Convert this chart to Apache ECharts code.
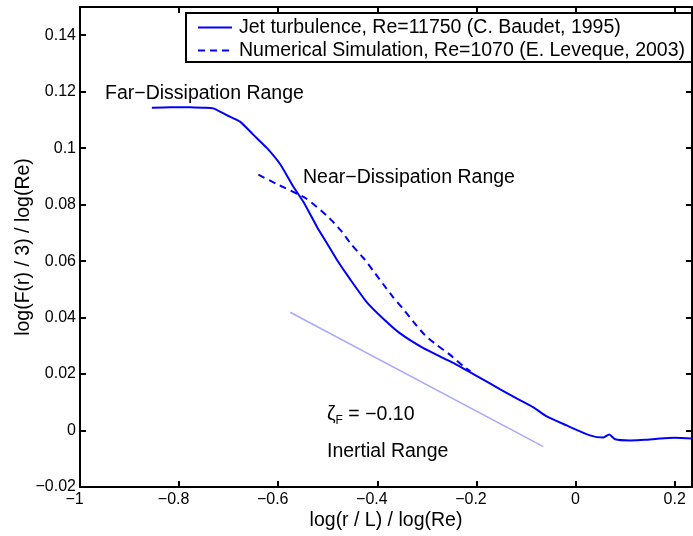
<!DOCTYPE html>
<html><head><meta charset="utf-8">
<script src="https://cdn.jsdelivr.net/npm/echarts@6/dist/echarts.min.js"></script>
<style>html,body{margin:0;padding:0;background:#fff}#c{width:693px;height:536px}</style>
</head><body><div id="c"></div>
<script>
// Jet turbulence, Re=11750 (C. Baudet, 1995) — solid curve
const jetX = [-0.855, -0.818, -0.778, -0.750, -0.731, -0.704, -0.677, -0.650, -0.623, -0.596, -0.570, -0.549, -0.522, -0.502, -0.482, -0.455, -0.421, -0.388, -0.354, -0.307, -0.253, -0.199, -0.152, -0.119, -0.085, -0.058, -0.018, 0.029, 0.056, 0.068, 0.080, 0.110, 0.140, 0.171, 0.201, 0.235];
const jetY = [0.1143, 0.1145, 0.1145, 0.1143, 0.1141, 0.1117, 0.1094, 0.1047, 0.1001, 0.0943, 0.0865, 0.0809, 0.0722, 0.0664, 0.0606, 0.0536, 0.0454, 0.0396, 0.0344, 0.0292, 0.0245, 0.0193, 0.0146, 0.0114, 0.0082, 0.0050, 0.0018, -0.0017, -0.0025, -0.0014, -0.0031, -0.0035, -0.0033, -0.0028, -0.0026, -0.0028];
// Numerical Simulation, Re=1070 (E. Leveque, 2003) — dashed curve
const simX = [-0.640, -0.603, -0.543, -0.496, -0.472, -0.452, -0.428, -0.408, -0.388, -0.368, -0.348, -0.327, -0.304, -0.280, -0.253, -0.226, -0.212];
const simY = [0.0906, 0.0873, 0.0821, 0.0751, 0.0705, 0.0658, 0.0611, 0.0565, 0.0518, 0.0472, 0.0431, 0.0385, 0.0338, 0.0303, 0.0268, 0.0227, 0.0210];
// Inertial-range slope guide (zeta = -0.10)
const slopeX = [-0.576, -0.065];
const slopeY = [0.0419, -0.0057];

const seriesNames = ['Jet turbulence, Re=11750 (C. Baudet, 1995)', 'Numerical Simulation, Re=1070 (E. Leveque, 2003)'];
const xTickValues = [-1, -0.8, -0.6, -0.4, -0.2, 0, 0.2];
const xTickLabels = ['\u22121', '\u22120.8', '\u22120.6', '\u22120.4', '\u22120.2', '0', '0.2'];
const yTickValues = [-0.02, 0, 0.02, 0.04, 0.06, 0.08, 0.1, 0.12, 0.14];
const yTickLabels = ['\u22120.02', '0', '0.02', '0.04', '0.06', '0.08', '0.1', '0.12', '0.14'];
const xTitle = 'log(r / L) / log(Re)';
const yTitle = 'log(F(r) / 3) / log(Re)';
const annFar = 'Far\u2212Dissipation Range';
const annNear = 'Near\u2212Dissipation Range';
const annZeta = ['\u03B6', 'F', ' = \u22120.10'];
const annInertial = 'Inertial Range';

const FONT = '"Liberation Sans", Arial, Helvetica, sans-serif';
const BIG = 19.5;
const zip = (xs, ys) => xs.map((x, i) => [x, ys[i]]);
const lookup = (vals, labels) => v => {
  const i = vals.findIndex(t => Math.abs(t - v) < 1e-6);
  return i >= 0 ? labels[i] : '';
};
const xLab = lookup(xTickValues, xTickLabels);
const yLab = lookup(yTickValues, yTickLabels);

const chart = echarts.init(document.getElementById('c'), null, {renderer: 'canvas'});
const axisCommon = {
  axisLine: {show: true, onZero: false, lineStyle: {color: '#000', width: 2}},
  axisTick: {show: true, inside: true, length: 6, lineStyle: {color: '#000', width: 2}},
  splitLine: {show: false}
};
chart.setOption({
  animation: false,
  backgroundColor: '#fff',
  grid: {left: 80, right: 1, top: 7, bottom: 42, containLabel: false},
  xAxis: [
    Object.assign({
      type: 'value', min: -1, max: 0.235, interval: 0.2, position: 'bottom',
      name: xTitle, nameLocation: 'middle', nameGap: 24, nameMoveOverlap: false,
      nameTextStyle: {fontFamily: FONT, fontSize: BIG, color: '#000'},
      axisLabel: {
        show: true, margin: 5, showMaxLabel: false, fontFamily: FONT, fontSize: 16, color: '#000',
        formatter: v => { const s = xLab(v); return s.charAt(0) === '\u2212' ? '{n|' + s + '}' : s; },
        rich: {n: {fontFamily: FONT, fontSize: 16, color: '#000', padding: [0, 11, 0, 0]}}
      }
    }, axisCommon),
    Object.assign({
      type: 'value', min: -1, max: 0.235, interval: 0.2, position: 'top',
      axisLabel: {show: false}
    }, axisCommon)
  ],
  yAxis: [
    Object.assign({
      type: 'value', min: -0.02, max: 0.15, interval: 0.02, position: 'left',
      name: yTitle, nameLocation: 'middle', nameGap: 46, nameRotate: 90, nameMoveOverlap: false,
      nameTextStyle: {fontFamily: FONT, fontSize: BIG, color: '#000'},
      axisLabel: {show: true, margin: 4, showMaxLabel: false, fontFamily: FONT, fontSize: 16, color: '#000', formatter: yLab}
    }, axisCommon),
    Object.assign({
      type: 'value', min: -0.02, max: 0.15, interval: 0.02, position: 'right',
      axisLabel: {show: false}
    }, axisCommon)
  ],
  legend: {
    orient: 'vertical', left: 197, top: 16, padding: 0, itemGap: 0, z: 200,
    itemWidth: 34, itemHeight: 14,
    itemStyle: {color: 'rgba(0,0,0,0)', borderColor: 'rgba(0,0,0,0)', borderWidth: 0},
    data: seriesNames,
    textStyle: {fontFamily: FONT, fontSize: BIG, color: '#000', lineHeight: 23, padding: [0, 0, 0, 2]}
  },
  series: [
    {
      name: seriesNames[0], type: 'line', data: zip(jetX, jetY), showSymbol: false, symbol: 'none',
      smooth: 0.2,
      lineStyle: {color: '#0000ff', width: 2, type: 'solid'}, itemStyle: {color: '#0000ff'}, z: 3
    },
    {
      name: seriesNames[1], type: 'line', data: zip(simX, simY), showSymbol: false, symbol: 'none',
      smooth: 0.2,
      lineStyle: {color: '#0000ff', width: 2, type: [7, 5]}, itemStyle: {color: '#0000ff'}, z: 3
    },
    {
      name: 'slope', type: 'line', data: zip(slopeX, slopeY), showSymbol: false, symbol: 'none',
      lineStyle: {color: '#a9a9ff', width: 1.5}, z: 2
    }
  ],
  graphic: [
    {type: 'rect', shape: {x: 186, y: 13, width: 506, height: 49}, style: {fill: '#fff', stroke: '#000', lineWidth: 2}, z: 10},
    {type: 'text', x: 105, y: 94, z: 60, style: {text: annFar, font: BIG + 'px ' + FONT, fill: '#000', verticalAlign: 'middle'}},
    {type: 'text', x: 303, y: 178, z: 60, style: {text: annNear, font: BIG + 'px ' + FONT, fill: '#000', verticalAlign: 'middle'}},
    {type: 'text', x: 327, y: 415, z: 60, style: {
      text: '{a|' + annZeta[0] + '}{s|' + annZeta[1] + '}{a|' + annZeta[2] + '}',
      verticalAlign: 'middle', fill: '#000',
      rich: {
        a: {fontFamily: FONT, fontSize: BIG, fill: '#000', lineHeight: 24, verticalAlign: 'middle'},
        s: {fontFamily: FONT, fontSize: 12, fill: '#000', lineHeight: 24, verticalAlign: 'bottom'}
      }
    }},
    {type: 'text', x: 327, y: 452, z: 60, style: {text: annInertial, font: BIG + 'px ' + FONT, fill: '#000', verticalAlign: 'middle'}}
  ]
});
</script>
</body></html>
